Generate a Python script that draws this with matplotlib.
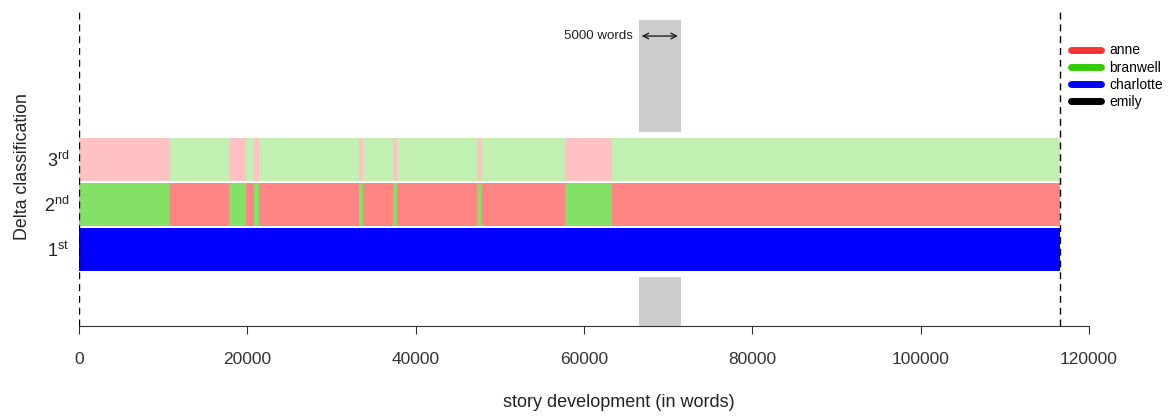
import matplotlib
matplotlib.use('Agg')
import matplotlib.pyplot as plt
from matplotlib.lines import Line2D
from matplotlib.colors import to_rgb

plt.rcParams['font.family'] = ['Liberation Sans', 'DejaVu Sans']
plt.rcParams['mathtext.fontset'] = 'custom'
plt.rcParams['mathtext.rm'] = 'Liberation Sans'

# Segment boundaries along the text (in words)
bounds = [0, 10800, 17850, 19800, 20800, 21350, 33300, 33800, 37350,
          37800, 47300, 47850, 57800, 63300, 116500]
# author per segment for each rank
rank1 = ['charlotte'] * 14
rank2 = ['branwell', 'anne', 'branwell', 'anne', 'branwell', 'anne', 'branwell',
         'anne', 'branwell', 'anne', 'branwell', 'anne', 'branwell', 'anne']
rank3 = ['anne', 'branwell', 'anne', 'branwell', 'anne', 'branwell', 'anne',
         'branwell', 'anne', 'branwell', 'anne', 'branwell', 'anne', 'branwell']

authors = ['anne', 'branwell', 'charlotte', 'emily']
author_colors = {'anne': '#FF3333', 'branwell': '#33CC00',
                 'charlotte': '#0000FF', 'emily': '#000000'}

window_start = 66500
window_size = 5000
text_end = 116500


def fade(c, a):
    r, g, b = to_rgb(c)
    return (1 - a + a * r, 1 - a + a * g, 1 - a + a * b)


fig = plt.figure(figsize=(11.7, 4.17), dpi=100)
ax = fig.add_axes([79 / 1170, (417 - 326) / 417, 1010 / 1170, 318 / 417])

# grey window marking 5000 words
ax.bar(window_start, 6.07 - 3.6, bottom=3.6, width=window_size, align='edge',
       color='#CCCCCC', linewidth=0, zorder=1)
ax.bar(window_start, 0.39 + 0.69, bottom=-0.69, width=window_size, align='edge',
       color='#CCCCCC', linewidth=0, zorder=1)

rows = [(1, rank1, 1.0), (2, rank2, 0.6), (3, rank3, 0.3)]
for ypos, who, a in rows:
    for i, name in enumerate(who):
        ax.barh(ypos, bounds[i + 1] - bounds[i], left=bounds[i], height=0.95,
                color=fade(author_colors[name], a), linewidth=0, zorder=2)

for xv in [0, text_end]:
    ax.plot([xv, xv], [-0.69, 6.34], color='black', linestyle=(0, (5, 3.5)),
            lw=1, zorder=3)

ax.annotate('', xy=(window_start, 5.72), xytext=(window_start + window_size, 5.72),
            arrowprops=dict(arrowstyle='<->', color='#222222', lw=1))
ax.text(window_start - 700, 5.72, '5000 words', ha='right', va='center',
        fontsize=9.6, color='#222222')

ax.set_xlim(0, 120000)
ax.set_ylim(-0.69, 6.34)
for s in ['top', 'right', 'left']:
    ax.spines[s].set_visible(False)
ax.spines['bottom'].set_bounds(0, 120000)
ax.spines['bottom'].set_color('#333333')
ax.set_xticks(range(0, 120001, 20000))
ax.tick_params(axis='x', length=6, color='#333333', labelsize=12.5,
               labelcolor='#333333', pad=13)
ax.set_yticks([1, 2, 3])
ax.set_yticklabels(['1$^{\\mathregular{st}}$', '2$^{\\mathregular{nd}}$',
                    '3$^{\\mathregular{rd}}$'])
ax.tick_params(axis='y', length=0, labelsize=13, pad=7, labelcolor='#222222')
ax.set_xlabel('story development (in words)', fontsize=13, color='#222222')
ax.xaxis.set_label_coords(0.534, -0.215)
ax.set_ylabel('Delta classification', fontsize=12.8, color='#222222', labelpad=9)

handles = [Line2D([0], [0], color=author_colors[a], lw=5, solid_capstyle='round')
           for a in authors]
fig.legend(handles, authors, loc='upper left', bbox_to_anchor=(1058 / 1170, 1 - 31 / 417),
           frameon=False, fontsize=10, handlelength=2.2, labelspacing=0.22,
           handletextpad=0.6)

fig.savefig('out.png', dpi=100)
